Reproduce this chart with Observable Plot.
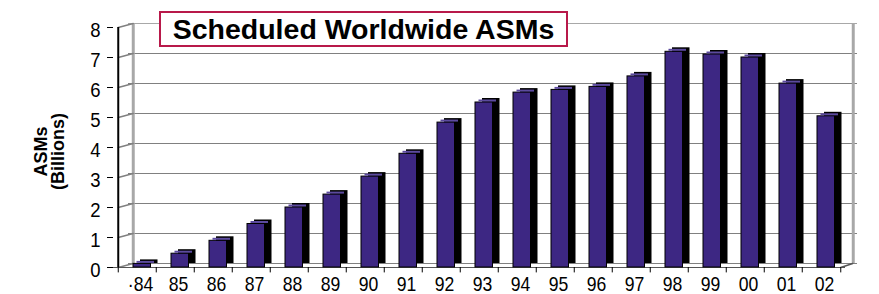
<!DOCTYPE html>
<html><head><meta charset="utf-8">
<script src="https://cdn.jsdelivr.net/npm/d3@7"></script>
<script src="https://cdn.jsdelivr.net/npm/@observablehq/plot@0.6"></script>
<style>
body{margin:0;background:#fff;}
#wrap{position:relative;width:879px;height:294px;}
#title{position:absolute;z-index:2;left:159px;top:11px;width:405px;height:32px;border:2px solid #b8194a;background:#fff;font:bold 28.5px "Liberation Sans",Arial,sans-serif;text-align:center;line-height:32px;color:#000;}
</style></head><body>
<div id="wrap"><div id="title">Scheduled Worldwide ASMs</div></div>
<script>
const years = ["·84","85","86","87","88","89","90","91","92","93","94","95","96","97","98","99","00","01","02"];
const asms = [0.12,0.46,0.89,1.45,2.0,2.43,3.03,3.79,4.83,5.5,5.83,5.92,6.02,6.37,7.19,7.1,7.0,6.13,5.04];
const yTicks = [0,1,2,3,4,5,6,7,8];
const yLabel = "ASMs\n(Billions)";

const data = years.map((year, i) => ({year, value: asms[i]}));
const first = years[0], last = years[years.length - 1];
const half = 19.25;

const chart = Plot.plot({
  width: 879, height: 294,
  marginLeft: 113, marginRight: 34, marginTop: 27, marginBottom: 27,
  style: {fontFamily: '"Liberation Sans",Arial,sans-serif', fontSize: "20px", color: "#000", background: "#fff", overflow: "visible"},
  x: {type: "band", domain: years, paddingInner: 0, paddingOuter: 0},
  y: {domain: [0, 8]},
  marks: [
    Plot.ruleY(yTicks.filter(d => d < 8), {stroke: "#808080", dx: 12, dy: -4, insetLeft: 3}),
    Plot.ruleY([8], {stroke: "#a8a8a8", dx: 12, dy: -4, insetLeft: 3}),
    Plot.ruleX([first], {y1: 0, y2: 8, dx: -half + 15, dy: -4, stroke: "#a8a8a8", strokeWidth: 3}),
    Plot.ruleX([last], {y1: 0, y2: 8, dx: half + 12.5, dy: -4, stroke: "#a8a8a8", strokeWidth: 3}),
    Plot.vector(yTicks, {x: yTicks.map(() => first), y: d => d, dx: -half, length: 15.5, rotate: 75, anchor: "start", r: 0, stroke: "#808080"}),
    Plot.vector([0], {x: [last], y: [0], dx: half, length: 12.6, rotate: 71.6, anchor: "start", r: 0, stroke: "#555"}),
    Plot.ruleY([0], {stroke: "#555"}),
    Plot.barY(data, {x: "year", y: "value", fill: "#000", insetLeft: 15, insetRight: 5.5, dx: 7, dy: -4}),
    Plot.barY(data, {x: "year", y: "value", fill: "#3d2783", stroke: "#000", strokeWidth: 1, insetLeft: 15, insetRight: 5.5}),
    Plot.tickY(data, {x: "year", y: "value", stroke: "#5c4a9f", strokeWidth: 2, insetLeft: 18.5, insetRight: 2, dy: -2}),
    Plot.ruleX([first], {y1: 0, y2: 8, dx: -half, stroke: "#000", strokeWidth: 2}),
    Plot.ruleY(yTicks, {insetRight: 726, dx: -6, stroke: "#000"}),
    Plot.ruleX(years, {y1: 0, y2: -0.18, dx: -half, stroke: "#000"}),
    Plot.ruleX([last], {y1: 0, y2: -0.18, dx: half, stroke: "#000"}),
    Plot.axisY(yTicks, {tickSize: 0, tickPadding: 13, dy: 3, label: null, fontSize: 21}),
    Plot.axisX({tickSize: 0, tickPadding: 9, dx: 3, label: null}),
    Plot.text([yLabel], {text: d => d, frameAnchor: "left", textAnchor: "middle", lineAnchor: "middle", dx: -63.5, dy: 4, rotate: -90, fontWeight: "bold", fontSize: 18, lineHeight: 0.95})
  ]
});
document.getElementById("wrap").appendChild(chart);
chart.style.position = "absolute";
chart.style.left = "0";
chart.style.top = "0";
// narrow the tick-label glyphs (Arial Narrow look)
d3.select(chart).selectAll("g[aria-label='x-axis tick label'] text, g[aria-label='y-axis tick label'] text").each(function () {
  const t = this.getAttribute("transform");
  if (t) {
    this.setAttribute("transform", t + " scale(0.88,1)");
  } else {
    const x = this.getAttribute("x") || 0, y = this.getAttribute("y") || 0;
    this.removeAttribute("x"); this.removeAttribute("y");
    this.setAttribute("transform", `translate(${x},${y}) scale(0.88,1)`);
  }
});
</script>
</body></html>
